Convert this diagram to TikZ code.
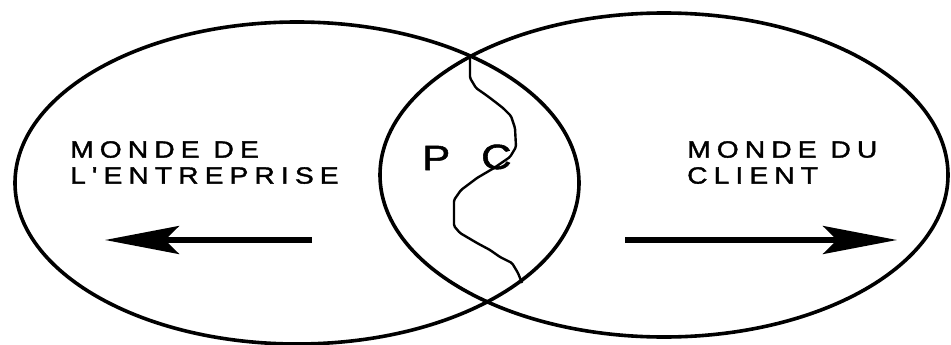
\documentclass[tikz,border=0pt]{standalone}
\usepackage{fontspec}
\usepackage{tikz}
\usetikzlibrary{arrows.meta,shapes.geometric,positioning}
\newfontfamily\lblfont[FakeStretch=1.2,FakeBold=1.6,LetterSpace=26]{Liberation Sans}
\tikzset{
  lobe/.style={draw,ellipse,line width=3.6pt,inner sep=0pt},
  lbl/.style={font=\lblfont\fontsize{23.5}{26}\selectfont,align=left,anchor=north west,inner sep=0pt},
  pc/.style={font=\lblfont\fontsize{35}{35}\selectfont,anchor=base west,inner sep=0pt},
  bigarr/.style={line width=5.5pt,-{Stealth[length=74pt,width=28pt,inset=14pt]}},
  seam/.style={line width=2.4pt,rounded corners=1.5pt}
}
\begin{document}
\begin{tikzpicture}[x=1pt,y=-1pt]
\useasboundingbox (0,0) rectangle (951,345);
\node[lobe,minimum width=564pt,minimum height=322pt] (ent) at (297,183) {};
\node[lobe,minimum width=568pt,minimum height=324pt] (cli) at (664,175) {};
\node[lbl] (entlbl) at (70,141) {MONDE DE\\L'ENTREPRISE};
\node[lbl] (clilbl) at (687,141) {MONDE DU\\CLIENT};
\node[pc] (p) at (422,170) {P};
\node[pc] (c) at (481,169) {C};
% arrows out of the two worlds
\coordinate (ls) at (312,240); \coordinate (le) at (105,240);
\coordinate (rs) at (625,240); \coordinate (re) at (897,240);
\draw[bigarr] (ls) -- (le);
\draw[bigarr] (rs) -- (re);
% the ragged border between P and C
\coordinate (top) at (470,57); \coordinate (foot) at (522,283);
\draw[seam] (top) -- (470,78) -- (476,88) -- (486,95) -- (494,101) -- (503,108) -- (511,116) -- (515,128)
  -- (516,147) -- (510,157) -- (494,168) -- (477,178) -- (461,190) -- (454,200)
  -- (454,226) -- (460,233) -- (477,243) -- (490,250) -- (500,257) -- (512,263) -- (518,273) -- (foot);
\end{tikzpicture}
\end{document}
